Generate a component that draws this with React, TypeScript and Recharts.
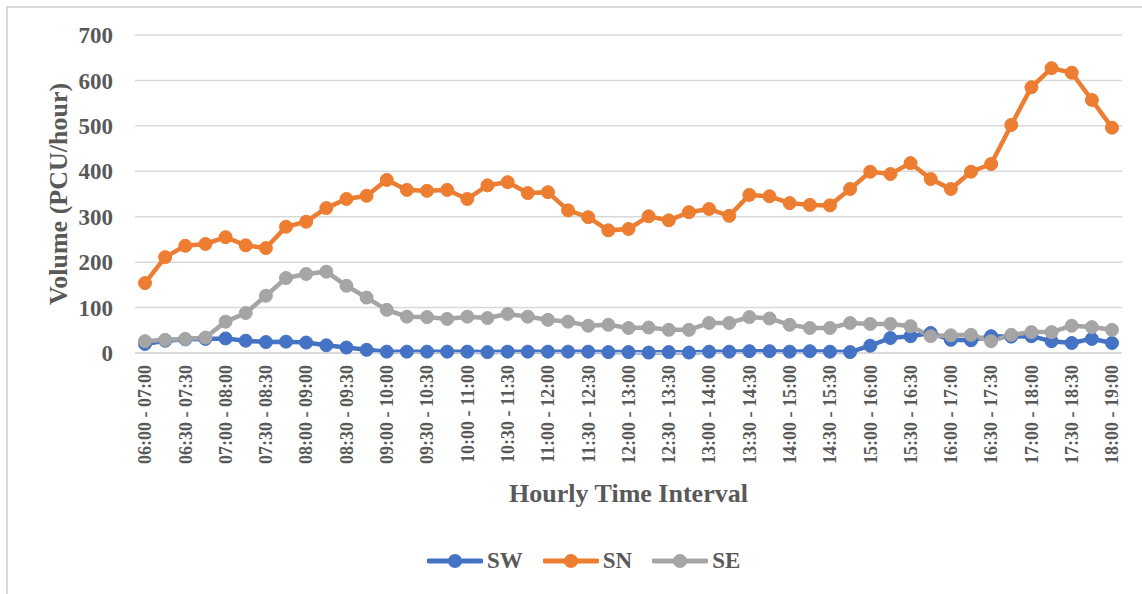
import { CartesianGrid, Label, Legend, Line, LineChart, XAxis, YAxis } from "recharts";

const intervals = [
	"06:00 - 07:00", "06:15 - 07:15", "06:30 - 07:30", "06:45 - 07:45",
	"07:00 - 08:00", "07:15 - 08:15", "07:30 - 08:30", "07:45 - 08:45",
	"08:00 - 09:00", "08:15 - 09:15", "08:30 - 09:30", "08:45 - 09:45",
	"09:00 - 10:00", "09:15 - 10:15", "09:30 - 10:30", "09:45 - 10:45",
	"10:00 - 11:00", "10:15 - 11:15", "10:30 - 11:30", "10:45 - 11:45",
	"11:00 - 12:00", "11:15 - 12:15", "11:30 - 12:30", "11:45 - 12:45",
	"12:00 - 13:00", "12:15 - 13:15", "12:30 - 13:30", "12:45 - 13:45",
	"13:00 - 14:00", "13:15 - 14:15", "13:30 - 14:30", "13:45 - 14:45",
	"14:00 - 15:00", "14:15 - 15:15", "14:30 - 15:30", "14:45 - 15:45",
	"15:00 - 16:00", "15:15 - 16:15", "15:30 - 16:30", "15:45 - 16:45",
	"16:00 - 17:00", "16:15 - 17:15", "16:30 - 17:30", "16:45 - 17:45",
	"17:00 - 18:00", "17:15 - 18:15", "17:30 - 18:30", "17:45 - 18:45",
	"18:00 - 19:00",
];

const sw = [
	20, 27, 30, 31, 32, 27, 24, 25, 23, 17, 12, 7, 3,
	3, 3, 3, 3, 2, 3, 3, 3, 3, 3, 2, 2, 1, 2, 1, 3, 3, 4, 4,
	3, 4, 3, 2, 16, 33, 37, 44, 29, 28, 37, 36, 37, 26, 22, 31, 22, 29,
];

const sn = [
	154, 211, 236, 240, 255, 237, 231, 278, 289, 319, 339, 346, 381,
	359, 357, 359, 339, 369, 376, 352, 354, 314, 299, 270, 273, 301, 292, 310, 317, 302, 348,
	345, 330, 326, 325, 361, 399, 394, 418, 383, 361, 399, 416, 502, 585, 627, 617, 557, 496,
];

const se = [
	26, 29, 31, 34, 69, 88, 126, 165, 174, 179, 148, 122, 95,
	80, 79, 75, 80, 77, 86, 80, 73, 69, 60, 62, 55, 56, 51, 51, 66, 66, 79,
	76, 62, 55, 55, 66, 64, 64, 59, 37, 39, 40, 26, 40, 46, 46, 60, 57, 51,
];

const yTicks = [0, 100, 200, 300, 400, 500, 600, 700];

const SERIES = [
	{ key: "SW", color: "#4472C4" },
	{ key: "SN", color: "#ED7D31" },
	{ key: "SE", color: "#A5A5A5" },
];

const FONT = '"Liberation Serif", "Times New Roman", serif';
const TEXT = "#595959";
const GRID = "#d9d9d9";

const data = intervals.map((label, i) => ({
	label,
	SW: sw[i],
	SN: sn[i],
	SE: se[i],
}));

function XTick(props: any) {
	const { x, y, payload } = props;
	return (
		<g transform={`translate(${x},${y})`}>
			<text
				transform="rotate(-90)"
				x={-12}
				dy="0.35em"
				textAnchor="end"
				fontFamily={FONT}
				fontWeight="bold"
				fontSize={18}
				fill={TEXT}
			>
				{payload.value}
			</text>
		</g>
	);
}

function LegendItems() {
	return (
		<div style={{ display: "flex", alignItems: "center", fontFamily: FONT, fontWeight: "bold", fontSize: 23, color: TEXT }}>
			{SERIES.map((s, i) => (
				<div key={s.key} style={{ display: "flex", alignItems: "center", marginLeft: i === 0 ? 0 : 20 }}>
					<svg width={56} height={16}>
						<line x1={2} y1={8} x2={54} y2={8} stroke={s.color} strokeWidth={5} strokeLinecap="round" />
						<circle cx={28} cy={8} r={7} fill={s.color} />
					</svg>
					<span style={{ marginLeft: 4, lineHeight: "26px" }}>{s.key}</span>
				</div>
			))}
		</div>
	);
}

export default function App() {
	return (
		<div style={{ position: "absolute", left: 0, top: 0, width: 1142, height: 594, background: "#fff" }}>
			<div
				style={{
					position: "absolute",
					left: 6,
					top: 6,
					width: 1136,
					height: 588,
					borderLeft: `2px solid ${GRID}`,
					borderTop: `2px solid ${GRID}`,
					boxSizing: "border-box",
				}}
			/>
			<div style={{ position: "absolute", left: 0, top: 0 }}>
				<LineChart width={1142} height={594} data={data} margin={{ top: 35, right: 20, left: 35, bottom: 91 }}>
					<CartesianGrid vertical={false} stroke={GRID} strokeWidth={1.5} />
					<XAxis
						dataKey="label"
						interval={1}
						height={150}
						padding={{ left: 10, right: 10 }}
						tick={<XTick />}
						tickLine={false}
						tickSize={0}
						tickMargin={0}
						axisLine={{ stroke: GRID, strokeWidth: 1.5 }}
					>
						<Label
							content={({ viewBox }: any) => (
								<text
									x={viewBox.x + viewBox.width / 2}
									y={502}
									textAnchor="middle"
									fontFamily={FONT}
									fontWeight="bold"
									fontSize={26}
									fill={TEXT}
								>
									Hourly Time Interval
								</text>
							)}
						/>
					</XAxis>
					<YAxis
						domain={[0, 700]}
						ticks={yTicks}
						width={100}
						axisLine={false}
						tickLine={false}
						tickSize={0}
						tickMargin={22}
						tick={{ fontFamily: FONT, fontWeight: "bold", fontSize: 23, fill: TEXT }}
					>
						<Label
							content={({ viewBox }: any) => {
								const cx = viewBox.x + 23;
								const cy = viewBox.y + viewBox.height / 2;
								return (
									<text
										x={cx}
										y={cy}
										dy="0.35em"
										transform={`rotate(-90, ${cx}, ${cy})`}
										textAnchor="middle"
										fontFamily={FONT}
										fontWeight="bold"
										fontSize={26}
										fill={TEXT}
									>
										Volume (PCU/hour)
									</text>
								);
							}}
						/>
					</YAxis>
					<Legend
						layout="horizontal"
						align="center"
						verticalAlign="middle"
						wrapperStyle={{ top: 548, left: 427, width: "auto" }}
						content={() => <LegendItems />}
					/>
					{SERIES.map((s) => (
						<Line
							key={s.key}
							type="linear"
							dataKey={s.key}
							stroke={s.color}
							strokeWidth={4.5}
							dot={{ r: 6.5, fill: s.color, stroke: s.color, strokeWidth: 1 }}
							activeDot={false}
							isAnimationActive={false}
						/>
					))}
				</LineChart>
			</div>
		</div>
	);
}
